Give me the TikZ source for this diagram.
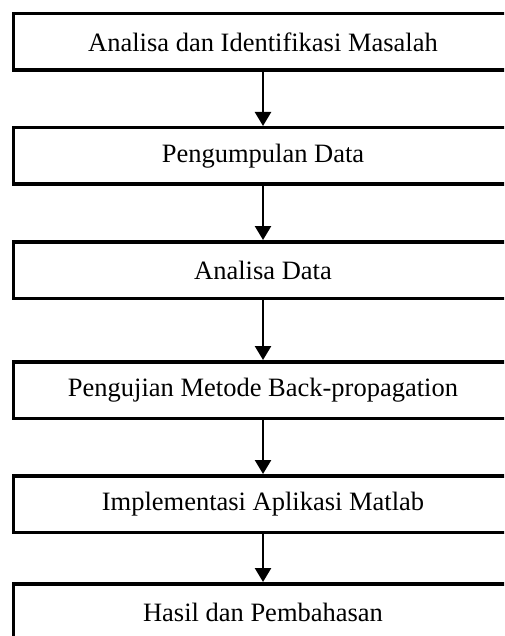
\documentclass[tikz,border=0pt]{standalone}
\usepackage{fontspec}
\setmainfont{Liberation Serif}
\usetikzlibrary{arrows.meta,positioning}

\begin{document}
\begin{tikzpicture}[x=1pt,y=1pt,node distance=54pt,every node/.style={draw,line width=3.5pt,minimum width=499pt,minimum height=56.5pt,align=center,font=\fontsize{26.5}{30}\selectfont}]
      \useasboundingbox (0,0) rectangle (504,-636);
      \clip (0,0) rectangle (504,-636);
      \node (am) at (263,-42) {Analisa dan Identifikasi Masalah};
      \node[below=of am] (pd) {Pengumpulan Data};
      \node[below=of pd] (ad) {Analisa Data};
      \node[below=60pt of ad] (bp) {Pengujian Metode Back-propagation};
      \node[below=of bp] (ia) {Implementasi Aplikasi Matlab};
      \node[below=48pt of ia] (hp) {Hasil dan Pembahasan};
      \foreach \x/\y in {am/pd,pd/ad,ad/bp,bp/ia,ia/hp}{\draw[-{Triangle[length=14pt,width=16pt]},line width=2.5pt] (\x)--(\y);}
    \end{tikzpicture}
\end{document}
